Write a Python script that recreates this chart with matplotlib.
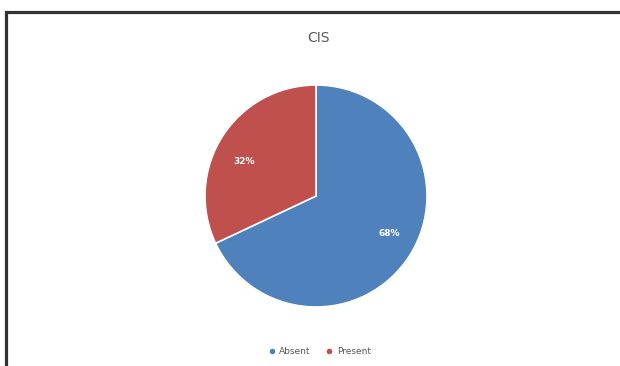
import matplotlib
matplotlib.use("Agg")
import matplotlib.pyplot as plt
from matplotlib.lines import Line2D
from matplotlib.patches import Rectangle

# CIS status breakdown
labels = ["Absent", "Present"]
shares = [68, 32]
colors = ["#4F81BD", "#C0504D"]

W, H = 620, 366
fig = plt.figure(figsize=(W / 100, H / 100), dpi=100)
fig.patch.set_facecolor("white")

# dark frame around the chart area (open at right and bottom)
fig.add_artist(Rectangle((5.5 / W, -0.1), 1.2, 1.1 - 11.5 / H,
                         transform=fig.transFigure, fill=False,
                         edgecolor="#333333", linewidth=2.3))

# pie centred at (316, 196) px with radius 111 px
cx, cy, r = 316, 196, 111
ax = fig.add_axes([(cx - r) / W, 1 - (cy + r) / H, 2 * r / W, 2 * r / H])
wedges, texts, autotexts = ax.pie(
    shares, colors=colors, startangle=90, counterclock=False,
    autopct="%d%%", pctdistance=0.74,
    wedgeprops=dict(edgecolor="white", linewidth=1.2),
    textprops=dict(color="white", fontsize=6.5, fontweight="bold"))
ax.set_xlim(-1, 1)
ax.set_ylim(-1, 1)
ax.set_aspect("equal")
ax.axis("off")

# nudge the percentage labels a little toward the wedge sides
autotexts[0].set_position((0.66, -0.34))
autotexts[1].set_position((-0.65, 0.31))

fig.text(318 / W, 1 - 38 / H, "CIS", ha="center", va="center",
         fontsize=10, color="#595959")

handles = [Line2D([0], [0], marker="o", linestyle="", markersize=3,
                  markerfacecolor=c, markeredgecolor=c) for c in colors]
fig.legend(handles, labels, loc="center", bbox_to_anchor=(319 / W, 1 - 352 / H),
           ncol=2, frameon=False, fontsize=6.5, labelcolor="#595959",
           handletextpad=0.3, columnspacing=1.6, handlelength=1)

fig.savefig("out.png", dpi=100)
